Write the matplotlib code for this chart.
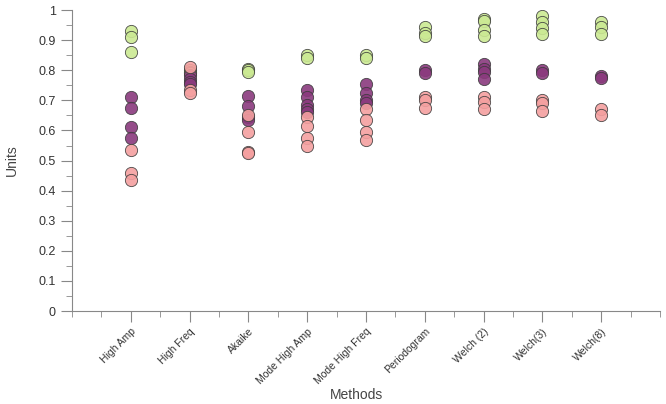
import matplotlib
matplotlib.use("Agg")
import matplotlib.pyplot as plt
import numpy as np

plt.rcParams['font.family'] = ['Liberation Sans', 'DejaVu Sans']

methods = ["High Amp", "High Freq", "Akaike", "Mode High Amp", "Mode High Freq",
           "Periodogram", "Welch (2)", "Welch(3)", "Welch(8)"]

# three groups of values per method
green = [
    [0.93, 0.91, 0.86],
    [0.80, 0.795, 0.79],
    [0.805, 0.80, 0.795],
    [0.85, 0.84],
    [0.85, 0.84],
    [0.945, 0.925, 0.915],
    [0.97, 0.965, 0.935, 0.915],
    [0.98, 0.96, 0.94, 0.92],
    [0.96, 0.945, 0.92],
]
purple = [
    [0.71, 0.675, 0.61, 0.575],
    [0.785, 0.77, 0.76, 0.755],
    [0.715, 0.68, 0.645, 0.635],
    [0.735, 0.71, 0.685, 0.67, 0.66],
    [0.755, 0.725, 0.70, 0.69],
    [0.80, 0.79],
    [0.82, 0.805, 0.795, 0.77],
    [0.80, 0.79],
    [0.78, 0.775],
]
pink = [
    [0.535, 0.46, 0.435],
    [0.81, 0.735, 0.725],
    [0.65, 0.595, 0.53, 0.525],
    [0.645, 0.615, 0.575, 0.55],
    [0.67, 0.635, 0.595, 0.57],
    [0.71, 0.70, 0.675],
    [0.71, 0.695, 0.67],
    [0.70, 0.69, 0.665],
    [0.67, 0.65],
]

fig = plt.figure(figsize=(6.66, 4.04), dpi=100)
ax = fig.add_axes([0.108, 0.230, 0.883, 0.745])

pos = np.arange(1, len(methods) + 1)
for vals, col in [(green, '#cbe993'), (purple, '#8a3a7d'), (pink, '#f4a0a0')]:
    for i, v in enumerate(vals):
        ax.scatter([pos[i]] * len(v), v, s=78, color=col, edgecolor='#3a3a3a',
                   linewidth=0.6, alpha=0.9, zorder=3)

ax.set_xlim(0, 10)
ax.set_ylim(0, 1)
ax.set_xticks(pos)
ax.set_xticks(np.arange(0, 10.01, 0.5), minor=True)
ax.set_xticklabels(methods, rotation=45, ha='right', rotation_mode='anchor', fontsize=7.5)
ax.set_yticks(np.arange(0, 1.01, 0.1))
ax.set_yticklabels([f"{t:g}" for t in np.arange(0, 1.01, 0.1).round(1)], fontsize=9)
ax.set_yticks(np.arange(0, 1.01, 0.05), minor=True)

for s in ['top', 'right']:
    ax.spines[s].set_visible(False)
for s in ['left', 'bottom']:
    ax.spines[s].set_color('#888888')
ax.tick_params(which='major', length=8, color='#888888', labelcolor='#333333')
ax.tick_params(which='minor', length=4, color='#888888')
ax.tick_params(axis='x', which='major', pad=3)

ax.set_ylabel("Units", fontsize=10, color='#444444', labelpad=14)
fig.text(0.536, 0.005, "Methods", fontsize=10, color='#444444', ha='center', va='bottom')

plt.savefig("out.png", dpi=100)
